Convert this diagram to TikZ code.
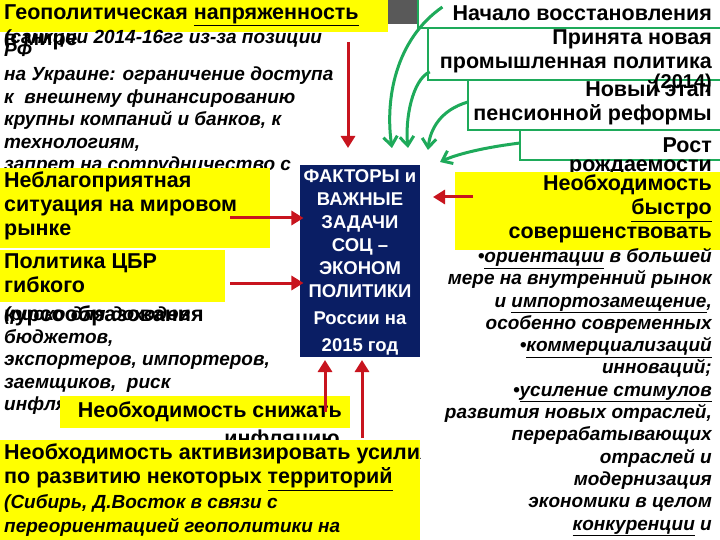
\documentclass[tikz,border=0pt]{standalone}
\usepackage{fontspec}
\setmainfont{Liberation Sans}
\usetikzlibrary{arrows.meta}
\definecolor{ylw}{RGB}{255,255,0}
\definecolor{navy}{RGB}{10,30,100}
\definecolor{grn}{RGB}{30,170,90}
\definecolor{rd}{RGB}{200,20,30}
\begin{document}
\begin{tikzpicture}[x=1pt,y=-1pt,
  big/.style={font=\fontsize{21.5}{24}\selectfont\bfseries,inner sep=0pt},
  ital/.style={font=\fontsize{19}{22.5}\selectfont\bfseries\itshape,inner sep=0pt},
  nav/.style={font=\fontsize{18.5}{23}\selectfont\bfseries,text=white,inner sep=0pt},
  gbox/.style={draw=grn,line width=1.5pt,fill=white},
  rarr/.style={draw=rd,line width=3pt,-{Triangle[length=12pt,width=14pt]}},
  garr/.style={draw=grn,line width=3pt,-{Straight Barb[length=9pt,width=14pt]}}]
\useasboundingbox (0,0) rectangle (720,540);
\fill[white] (0,0) rectangle (720,540);
% top left
\fill[ylw] (0,0) rectangle (388,32);
\fill[gray!70!black] (388,0) rectangle (418,24);
\node[big,anchor=west] (geo) at (4,15) {Геополитическая \underline{напряженность}};
\node[big,anchor=west] (vm) at (4,42) {в мире};
\node[ital,anchor=north west,align=left] (sank) at (4,30) {(санкции 2014-16гг из-за позиции\\[-10pt]РФ\\[2pt]на Украине: ограничение доступа\\к\ \ внешнему финансированию\\крупны компаний и банков, к\\технологиям,\\запрет на сотрудничество с};
% unfavourable market
\fill[ylw] (0,168) rectangle (270,248);
\node[big,anchor=north west,align=left] (neb) at (4,172) {Неблагоприятная\\ситуация на мировом\\рынке};
% CBR
\fill[ylw] (0,250) rectangle (225,302);
\node[big,anchor=north west,align=left] (cbr) at (4,254) {Политика ЦБР\\гибкого};
\node[ital,anchor=north west,align=left] (risk) at (4,307) {(риско для доходов\\бюджетов,\\экспортеров, импортеров,\\заемщиков,\ \ риск\\инфляционного эффекта)};
\node[big,anchor=west] (kurs) at (4,316) {курсообразования};
% inflation
\fill[ylw] (60,396) rectangle (350,428);
\node[big,anchor=east] (snij) at (342,412) {Необходимость снижать};
\node[big,anchor=east] (infl) at (340,440) {инфляцию};
% bottom
\fill[ylw] (0,440) rectangle (420,540);
\begin{scope}
\clip (0,440) rectangle (420,540);
\node[big,anchor=north west,align=left] (terr) at (4,444) {Необходимость активизировать усилия\\по развитию некоторых \underline{территорий}};
\end{scope}
\node[ital,anchor=north west,align=left,font=\fontsize{19}{24}\selectfont\bfseries\itshape] (sib) at (4,494) {(Сибирь, Д.Восток в связи с\\переориентацией геополитики на};
% navy
\fill[navy] (300,165) rectangle (420,357);
\node[nav,align=center] (fak) at (360,262) {ФАКТОРЫ и\\ВАЖНЫЕ\\ЗАДАЧИ\\СОЦ –\\ЭКОНОМ\\ПОЛИТИКИ\\[4pt]России на\\[4pt]2015 год};
% right boxes
\draw[gbox] (418,-2) rectangle (722,28);
\node[big,anchor=east] (nach) at (712,13) {Начало восстановления};
\draw[gbox] (428,28) rectangle (722,80);
\node[big,anchor=north east,align=right] (prom) at (712,30) {Принята новая\\промышленная политика};
\draw[gbox] (468,80) rectangle (722,130);
\node[big,anchor=north east,font=\fontsize{20}{20}\selectfont\bfseries] (y14) at (712,74) {(2014)};
\node[big,anchor=north east,align=right] (pens) at (712,80) {Новый этап\\пенсионной реформы};
\draw[gbox] (520,130) rectangle (722,160);
\node[big,anchor=east] (rost) at (712,145) {Рост};
\node[big,anchor=east] (rojd) at (712,168) {рождаемости};
\fill[ylw] (455,172) rectangle (720,250);
\node[big,anchor=north east,align=right] (bys) at (712,175) {Необходимость\\\underline{быстро}\\совершенствовать};
\node[ital,anchor=north east,align=right,font=\fontsize{19}{22.3}\selectfont\bfseries\itshape] (right) at (712,248) {•\underline{ориентации} в большей\\мере на внутренний рынок\\и \underline{импортозамещение},\\особенно современных\\•\underline{коммерциализаций}\\инноваций;\\•\underline{усиление стимулов}\\развития новых отраслей,\\перерабатывающих\\отраслей и\\модернизация\\экономики в целом\\\underline{конкуренции} и};
% arrows
\draw[rarr] (348,42) -- (348,148);
\draw[rarr] (230,218) -- (fak.west|-0,218);
\draw[rarr] (230,283) -- (fak.west|-0,283);
\draw[rarr] (325,412) -- (325,360);
\draw[rarr] (362,438) -- (362,360);
\draw[rarr] (473,197) -- (433,197);
\draw[garr] (nach.west) ++(-10,-6) .. controls (395,40) and (385,100) .. (392,148);
\draw[garr] (prom.west) ++(-10,20) .. controls (412,80) and (405,120) .. (408,148);
\draw[garr] (468,102) .. controls (440,110) and (430,130) .. (428,150);
\draw[garr] (520,143) .. controls (480,148) and (455,155) .. (440,162);
\end{tikzpicture}
\end{document}
